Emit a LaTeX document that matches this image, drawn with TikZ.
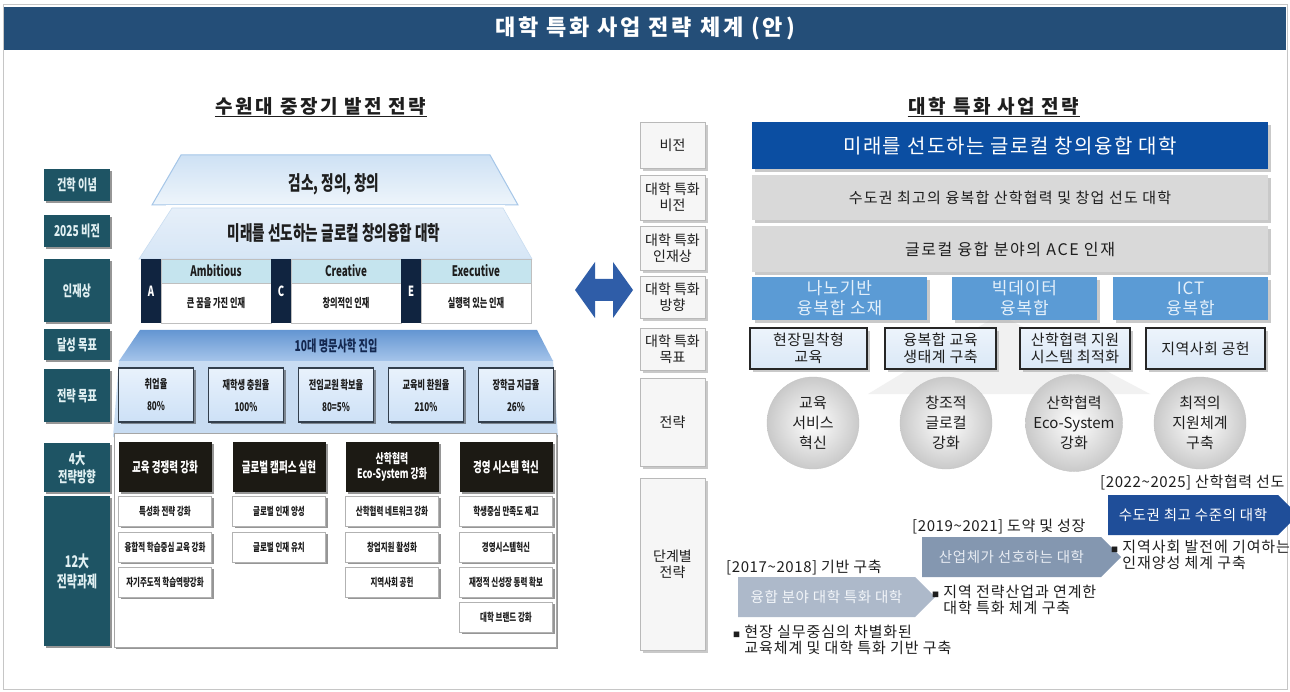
\documentclass[tikz,border=0pt]{standalone}
\usepackage{fontspec}
\setmainfont{Noto Sans CJK KR}
\newfontfamily\kc[FakeStretch=0.68]{Noto Sans CJK KR}
\usetikzlibrary{shadows,shapes.symbols}
\newcommand\fz[2]{\fontsize{#1}{#2}\selectfont}
\definecolor{hdr}{RGB}{36,78,120}
\definecolor{tealx}{RGB}{30,84,100}
\definecolor{labtxt}{RGB}{225,240,242}
\definecolor{navyx}{RGB}{16,36,64}
\definecolor{acecyan}{RGB}{197,228,238}
\definecolor{roofa}{RGB}{206,225,244}
\definecolor{roofb}{RGB}{238,245,251}
\definecolor{roofc}{RGB}{230,239,249}
\definecolor{roofd}{RGB}{214,230,246}
\definecolor{roofline}{RGB}{165,198,232}
\definecolor{archt}{RGB}{100,150,210}
\definecolor{archb}{RGB}{165,196,234}
\definecolor{goalbg}{RGB}{200,220,242}
\definecolor{goalblue}{RGB}{205,225,247}
\definecolor{blackhd}{RGB}{28,26,20}
\definecolor{visblue}{RGB}{11,78,162}
\definecolor{greybar}{RGB}{217,217,217}
\definecolor{dirblue}{RGB}{91,155,213}
\definecolor{dirtxt}{RGB}{228,240,251}
\definecolor{rgoal}{RGB}{218,232,247}
\definecolor{chevc}{RGB}{31,78,153}
\definecolor{chevb}{RGB}{132,151,176}
\definecolor{cheva}{RGB}{173,185,202}
\definecolor{arrowblue}{RGB}{47,93,168}
\definecolor{txtdark}{RGB}{30,30,30}
\tikzset{
  shd/.style={drop shadow={shadow xshift=2pt,shadow yshift=-2pt,opacity=0.55,fill=black!75}},
  lshd/.style={drop shadow={shadow xshift=3pt,shadow yshift=-3pt,opacity=0.6,fill=gray!70}},
  llab/.style={fill=tealx, text=labtxt, font=\kc\bfseries\fz{15}{18}, align=center,
    minimum width=66, inner sep=0, shd},
  tiertxt/.style={text=txtdark, font=\kc\bfseries\fz{20}{24}, inner sep=0},
  acel/.style={fill=navyx, text=white, font=\kc\bfseries\fz{14}{16}, minimum width=20,
    minimum height=64, inner sep=0},
  aceh/.style={fill=acecyan, draw=gray!50, text=txtdark, font=\kc\bfseries\fz{14.5}{16},
    minimum width=110, minimum height=24, inner sep=0},
  aceb/.style={fill=white, draw=gray!50, text=txtdark, font=\kc\bfseries\fz{12}{14},
    minimum width=110, minimum height=40, inner sep=0},
  lgoalbox/.style={draw={rgb,255:red,50;green,62;blue,76}, line width=1.5pt,
    top color=white!55!goalblue, bottom color=goalblue, minimum width=75, minimum height=54,
    inner sep=0, align=center, text=txtdark, font=\kc\bfseries\fz{12}{22}, shd},
  blackbox/.style={fill=blackhd, text=white, font=\kc\bfseries\fz{14}{15}, align=center,
    minimum width=93, minimum height=50, inner sep=0, shd},
  taskbox/.style={fill=white, draw=gray!60, text=txtdark, font=\kc\bfseries\fz{11}{13},
    minimum width=93, minimum height=30, inner sep=1pt, shd},
  rlab/.style={fill=gray!7, draw=gray!55, text=txtdark, font=\fz{14}{16}, align=center,
    minimum width=65, inner sep=0, lshd},
  rbar/.style={minimum width=516, inner sep=0, lshd},
  dirbox/.style={fill=dirblue, text=dirtxt, font=\fz{17}{20}\addfontfeature{LetterSpace=5},
    align=center, minimum height=43, inner sep=0, lshd},
  rgoalbox/.style={draw=black!85, line width=2pt, top color=white!50!rgoal, bottom color=rgoal,
    text=txtdark, font=\fz{15}{17}\addfontfeature{LetterSpace=3}, align=center,
    minimum height=41, inner sep=0, lshd},
  ballnode/.style={circle, minimum size=92, inner sep=0, draw=gray!45,
    shading=radial, inner color=white, outer color=gray!42, text=txtdark,
    font=\fz{15}{20}, align=center},
  chev/.style={signal, signal to=east, signal pointer angle=90, minimum height=40,
    inner sep=0, font=\fz{14.5}{16}\addfontfeature{LetterSpace=4}},
  phase/.style={anchor=west, inner sep=0, text=txtdark, font=\fz{15}{17}\addfontfeature{LetterSpace=4}},
  bullet/.style={anchor=west, inner sep=0, text=txtdark, align=left,
    font=\fz{15}{15.5}\addfontfeature{LetterSpace=6}}
}
\newcommand\bul{{\fz{7}{7}■}\ }
\newcommand\bulsp{\hphantom{{\fz{7}{7}■}\ }}
\begin{document}
\begin{tikzpicture}[x=1pt,y=-1pt]
\useasboundingbox (0,0) rectangle (1290,692);
\fill[white] (0,0) rectangle (1290,692);
\draw[gray!45, line width=0.8pt] (3,4) rectangle (1287,689);
% header
\fill[hdr] (4,7) rectangle (1286,50);
\node[text=white, font=\bfseries\fz{22}{26}\addfontfeature{LetterSpace=13}, inner sep=0] (title) at (645,28) {대학 특화 사업 전략 체계 (안)};
% subtitles
\node[text=txtdark, font=\bfseries\fz{19}{22}\addfontfeature{LetterSpace=13}, inner sep=1pt] (lsub) at (321,106) {수원대 중장기 발전 전략};
\draw[txtdark, line width=1.2pt] (lsub.south west) -- (lsub.south east);
\node[text=txtdark, font=\bfseries\fz{19}{22}\addfontfeature{LetterSpace=13}, inner sep=1pt] (rsub) at (994,106) {대학 특화 사업 전략};
\draw[txtdark, line width=1.2pt] (rsub.south west) -- (rsub.south east);

% ---------------- left ----------------
\node[llab, minimum height=32] (lphil) at (77,185) {건학 이념};
\node[llab, minimum height=32] (lvis) at (77,231) {2025 비전};
\node[llab, minimum height=63] (ltal) at (77,290.5) {인재상};
\node[llab, minimum height=31] (lach) at (77,344.5) {달성 목표};
\node[llab, minimum height=53] (lgoal) at (77,395.5) {전략 목표};
\node[llab, minimum height=49] (ldir) at (77,467.5) {4大\\전략방향};
\node[llab, minimum height=150, font=\kc\bfseries\fz{16}{20}] (ltask) at (77,571) {12大\\전략과제};

% roof tiers
\path[top color=roofa, bottom color=roofb, draw=roofline, line width=1pt]
  (181,155) -- (490,155) -- (518,205) -- (152,205) -- cycle;
\path[top color=roofc, bottom color=roofd, draw=roofline!60, line width=0.6pt]
  (172,208) -- (503,208) -- (532,259) -- (139,259) -- cycle;
\draw[white, line width=2pt] (166,206) -- (505,206);
\node[tiertxt] (phil) at (334,184) {검소, 정의, 창의};
\node[tiertxt] (lvision) at (334,233) {미래를 선도하는 글로컬 창의융합 대학};

% ACE row
\node[acel] (la) at (151,291) {A};
\node[aceh] (ha) at (216,271) {Ambitious};
\node[aceb] (ba) at (216,303) {큰 꿈을 가진 인재};
\node[acel] (lc) at (281,291) {C};
\node[aceh] (hc) at (346,271) {Creative};
\node[aceb] (bc) at (346,303) {창의적인 인재};
\node[acel] (le) at (411,291) {E};
\node[aceh] (he) at (476,271) {Executive};
\node[aceb] (be) at (476,303) {실행력 있는 인재};

% achievement arch and goal background
\fill[goalbg] (119,360) -- (553,360) -- (558,437) -- (113,437) -- cycle;
\path[top color=archt, bottom color=archb]
  (140,330) -- (537,330) -- (553,361) -- (119,361) -- cycle;
\node[text={rgb,255:red,20;green,40;blue,80}, font=\kc\bfseries\fz{15}{17}, inner sep=0] (achv) at (336,346) {10대 명문사학 진입};

% strategic goals
\node[lgoalbox] (g1) at (156,395) {취업율\\80\%};
\node[lgoalbox] (g2) at (246,395) {재학생 충원율\\100\%};
\node[lgoalbox] (g3) at (336,395) {전임교원 확보율\\80=5\%};
\node[lgoalbox] (g4) at (426,395) {교육비 환원율\\210\%};
\node[lgoalbox] (g5) at (516,395) {장학금 지급율\\26\%};

% panel
\path[draw=gray!70, fill=white, shd] (114,433) rectangle (556,647);

% directions
\node[blackbox] (d1) at (165,467) {교육 경쟁력 강화};
\node[blackbox] (d2) at (279,467) {글로벌 캠퍼스 실현};
\node[blackbox, font=\kc\bfseries\fz{13}{15}] (d3) at (392,467) {산학협력\\Eco-System 강화};
\node[blackbox] (d4) at (506,467) {경영 시스템 혁신};

% tasks
\node[taskbox] (t11) at (165,511) {특성화 전략 강화};
\node[taskbox] (t12) at (165,547) {융합적 학습중심 교육 강화};
\node[taskbox] (t13) at (165,582) {자기주도적 학습역량강화};
\node[taskbox] (t21) at (279,511) {글로벌 인재 양성};
\node[taskbox] (t22) at (279,547) {글로벌 인재 유치};
\node[taskbox] (t31) at (392,511) {산학협력 네트워크 강화};
\node[taskbox] (t32) at (392,547) {창업지원 활성화};
\node[taskbox] (t33) at (392,582) {지역사회 공헌};
\node[taskbox] (t41) at (506,511) {학생중심 만족도 제고};
\node[taskbox] (t42) at (506,547) {경영시스템혁신};
\node[taskbox] (t43) at (506,582) {재정적 신성장 동력 확보};
\node[taskbox] (t44) at (506,617) {대학 브랜드 강화};

% double arrow
\fill[arrowblue] (575,290) -- (595,262) -- (595,279) -- (613,279) -- (613,262) -- (633,290)
  -- (613,318) -- (613,301) -- (595,301) -- (595,318) -- cycle;

% ---------------- right ----------------
\node[rlab, minimum height=46] (rvis) at (672.5,145) {비전};
\node[rlab, minimum height=45] (rsvis) at (672.5,197.5) {대학 특화\\비전};
\node[rlab, minimum height=44] (rstal) at (672.5,248) {대학 특화\\인재상};
\node[rlab, minimum height=42] (rsdir) at (672.5,297) {대학 특화\\방향};
\node[rlab, minimum height=42] (rsgoal) at (672.5,349) {대학 특화\\목표};
\node[rlab, minimum height=88] (rstr) at (672.5,422) {전략};
\node[rlab, minimum height=172] (rphase) at (672.5,564) {단계별\\전략};

% fan behind circles
\fill[gray!11] (990,320) -- (1010,320) -- (1150,394) -- (868,394) -- cycle;

\node[rbar, fill=visblue, text=white, minimum height=47, font=\fz{20}{24}\addfontfeature{LetterSpace=7}] (bvis) at (1010,145.5) {미래를 선도하는 글로컬 창의융합 대학};
\node[rbar, fill=greybar, text=txtdark, minimum height=45, font=\fz{15}{18}\addfontfeature{LetterSpace=8}] (bsvis) at (1010,197.5) {수도권 최고의 융복합 산학협력 및 창업 선도 대학};
\node[rbar, fill=greybar, text=txtdark, minimum height=46, font=\fz{16}{19}\addfontfeature{LetterSpace=10}] (bstal) at (1010,249) {글로컬 융합 분야의 ACE 인재};

\node[dirbox, minimum width=175] (dir1) at (839.5,298.5) {나노기반\\융복합 소재};
\node[dirbox, minimum width=145] (dir2) at (1024.5,298.5) {빅데이터\\융복합};
\node[dirbox, minimum width=155] (dir3) at (1190.5,298.5) {ICT\\융복합};

\node[rgoalbox, minimum width=117] (rg1) at (808.5,348.5) {현장밀착형\\교육};
\node[rgoalbox, minimum width=111] (rg2) at (940.5,348.5) {융복합 교육\\생태계 구축};
\node[rgoalbox, minimum width=110] (rg3) at (1075,348.5) {산학협력 지원\\시스템 최적화};
\node[rgoalbox, minimum width=119] (rg4) at (1205.5,348.5) {지역사회 공헌};

\node[ballnode] (s1) at (813,423) {교육\\서비스\\혁신};
\node[ballnode] (s2) at (946,423) {창조적\\글로컬\\강화};
\node[ballnode] (s3) at (1074,423) {산학협력\\Eco-System\\강화};
\node[ballnode] (s4) at (1200,423) {최적의\\지원체계\\구축};

% phases
\node[phase] (p3) at (1100,483) {[2022\textasciitilde2025] 산학협력 선도};
\node[chev, fill=chevc, text=white, minimum width=190] (c3) at (1193,515) {수도권 최고 수준의 대학};
\node[phase] (p2) at (912,527) {[2019\textasciitilde2021] 도약 및 성장};
\node[chev, fill=chevb, text={rgb,255:red,232;green,236;blue,243}, minimum width=199] (c2) at (1011.5,557) {산업체가 선호하는 대학};
\node[phase] (p1) at (726,568) {[2017\textasciitilde2018] 기반 구축};
\node[chev, fill=cheva, text={rgb,255:red,242;green,245;blue,249}, minimum width=197] (c1) at (826.5,597) {융합 분야 대학 특화 대학};

\node[bullet] (b3) at (1111,555) {\bul 지역사회 발전에 기여하는\\\bulsp 인재양성 체계 구축};
\node[bullet] (b2) at (932,600) {\bul 지역 전략산업과 연계한\\\bulsp 대학 특화 체계 구축};
\node[bullet] (b1) at (733,640) {\bul 현장 실무중심의 차별화된\\\bulsp 교육체계 및 대학 특화 기반 구축};
\end{tikzpicture}
\end{document}
